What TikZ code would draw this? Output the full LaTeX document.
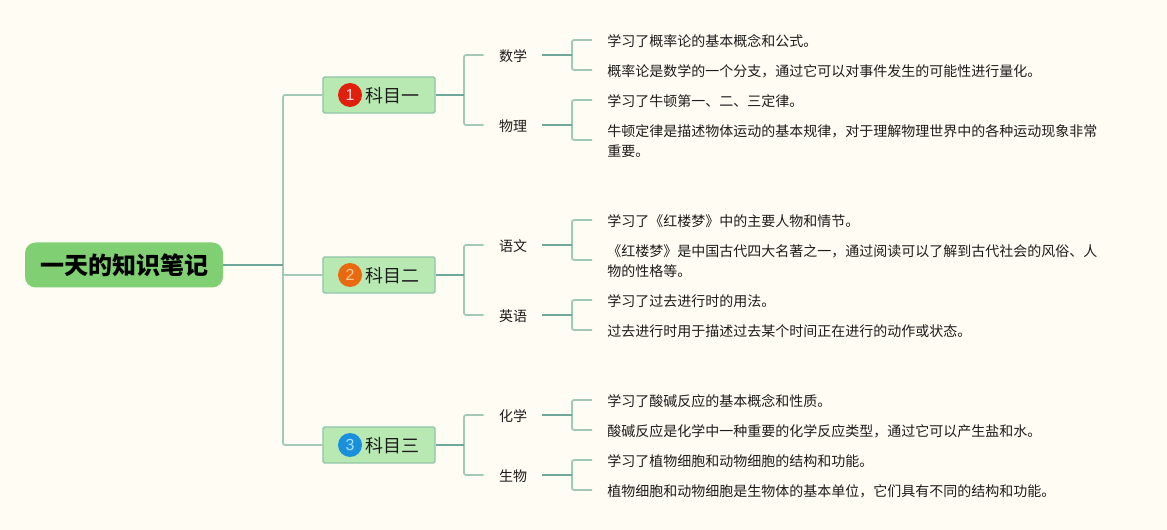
\documentclass[tikz,border=0pt]{standalone}
\usepackage{fontspec}
\setmainfont{Noto Sans CJK SC}
\newfontfamily\numfont{Liberation Sans}
\definecolor{papel}{HTML}{FFFCF3}
\definecolor{raiz}{HTML}{80CF72}
\definecolor{caja}{HTML}{B9E9B3}
\definecolor{borde}{HTML}{8FC4A8}
\definecolor{lineaf}{HTML}{6FA89A}
\definecolor{linead}{HTML}{A3C9B6}
\definecolor{texto}{HTML}{1C1C1C}
\tikzset{
    rootbox/.style={fill=raiz, rounded corners=8pt, minimum width=148.5pt, minimum height=33.75pt,
        inner sep=0pt, text=black, font=\fontsize{18}{22}\selectfont\bfseries},
    subject/.style={fill=caja, draw=borde, line width=1pt, rounded corners=1.2pt, minimum width=84pt,
        minimum height=27pt, inner sep=0pt, text=texto, font=\fontsize{13.5}{16}\selectfont,
        execute at begin node={\rule[-1.75pt]{0pt}{15.25pt}}},
    badge/.style={circle, minimum size=18pt, inner sep=0pt, font=\numfont\fontsize{12}{14}\selectfont},
    branch/.style={minimum width=43.5pt, minimum height=15pt, inner sep=0pt, text=texto,
        font=\fontsize{10.5}{15}\selectfont,
        execute at begin node={\rule[-1.5pt]{0pt}{12.5pt}}},
    leaf/.style={anchor=west, align=left, inner xsep=11.25pt, inner ysep=0pt, text=texto,
        font=\fontsize{10.5}{15}\selectfont,
        execute at begin node={\rule{0pt}{11pt}},
        execute at end node={\rule[-1.5pt]{0pt}{1.5pt}}},
    linkmain/.style={draw=lineaf, line width=1.3pt},
    linksub/.style={draw=linead, line width=1.3pt, rounded corners=1.5pt}
}
\begin{document}
\begin{tikzpicture}[x=0.75pt, y=-0.75pt]
    % Fondo
    \fill[papel] (0,0) rectangle (1167,530);

    % Raiz
    \node[rootbox] (root) at (124,265) {一天的知识笔记};

    % Materias
    \node[subject] (subj1) at (379,95) {\hspace{19.5pt}科目一};
    \node[subject] (subj2) at (379,275) {\hspace{19.5pt}科目二};
    \node[subject] (subj3) at (379,445) {\hspace{19.5pt}科目三};
    \node[badge, fill={rgb,255:red,224;green,32;blue,12}, text=red!15!white] (num1) at (350,95) {1};
    \node[badge, fill={rgb,255:red,232;green,105;blue,15}, text=orange!40!white] (num2) at (350,275) {2};
    \node[badge, fill={rgb,255:red,26;green,144;blue,220}, text=cyan!35!white] (num3) at (350,445) {3};

    % Ramas
    \node[branch] (math) at (513,55) {数学};
    \node[branch] (phys) at (513,125) {物理};
    \node[branch] (chin) at (513,245) {语文};
    \node[branch] (engl) at (513,315) {英语};
    \node[branch] (chem) at (513,415) {化学};
    \node[branch] (biol) at (513,475) {生物};

    % Notas
    \node[leaf] (math1) at (592,40) {学习了概率论的基本概念和公式。};
    \node[leaf] (math2) at (592,70) {概率论是数学的一个分支，通过它可以对事件发生的可能性进行量化。};
    \node[leaf] (phys1) at (592,100) {学习了牛顿第一、二、三定律。};
    \node[leaf] (phys2) at (592,142) {牛顿定律是描述物体运动的基本规律，对于理解物理世界中的各种运动现象非常\\重要。};
    \node[leaf] (chin1) at (592,220) {学习了《红楼梦》中的主要人物和情节。};
    \node[leaf] (chin2) at (592,262) {《红楼梦》是中国古代四大名著之一，通过阅读可以了解到古代社会的风俗、人\\物的性格等。};
    \node[leaf] (engl1) at (592,300) {学习了过去进行时的用法。};
    \node[leaf] (engl2) at (592,330) {过去进行时用于描述过去某个时间正在进行的动作或状态。};
    \node[leaf] (chem1) at (592,400) {学习了酸碱反应的基本概念和性质。};
    \node[leaf] (chem2) at (592,430) {酸碱反应是化学中一种重要的化学反应类型，通过它可以产生盐和水。};
    \node[leaf] (biol1) at (592,460) {学习了植物细胞和动物细胞的结构和功能。};
    \node[leaf] (biol2) at (592,490) {植物细胞和动物细胞是生物体的基本单位，它们具有不同的结构和功能。};

    % Puntos de bifurcacion
    \coordinate (forkroot) at (283,265);
    \coordinate (fork1) at (464,95);
    \coordinate (fork2) at (464,275);
    \coordinate (fork3) at (464,445);
    \coordinate (forkmath) at (572,55);
    \coordinate (forkphys) at (572,125);
    \coordinate (forkchin) at (572,245);
    \coordinate (forkengl) at (572,315);
    \coordinate (forkchem) at (572,415);
    \coordinate (forkbiol) at (572,475);

    % Conectores claros
    \draw[linksub] (forkroot) |- (subj1.west);
    \draw[linksub] (forkroot) |- (subj2.west);
    \draw[linksub] (forkroot) |- (subj3.west);
    \draw[linksub] (fork1) |- (math.west);
    \draw[linksub] (fork1) |- (phys.west);
    \draw[linksub] (fork2) |- (chin.west);
    \draw[linksub] (fork2) |- (engl.west);
    \draw[linksub] (fork3) |- (chem.west);
    \draw[linksub] (fork3) |- (biol.west);
    \draw[linksub] (forkmath) |- (math1.west);
    \draw[linksub] (forkmath) |- (math2.west);
    \draw[linksub] (forkphys) |- (phys1.west);
    \draw[linksub] (forkphys) |- ([yshift=1.5pt]phys2.west);
    \draw[linksub] (forkchin) |- (chin1.west);
    \draw[linksub] (forkchin) |- ([yshift=1.5pt]chin2.west);
    \draw[linksub] (forkengl) |- (engl1.west);
    \draw[linksub] (forkengl) |- (engl2.west);
    \draw[linksub] (forkchem) |- (chem1.west);
    \draw[linksub] (forkchem) |- (chem2.west);
    \draw[linksub] (forkbiol) |- (biol1.west);
    \draw[linksub] (forkbiol) |- (biol2.west);

    % Conectores oscuros
    \draw[linkmain] (root.east) -- (forkroot);
    \draw[linkmain] (subj1.east) -- (fork1);
    \draw[linkmain] (subj2.east) -- (fork2);
    \draw[linkmain] (subj3.east) -- (fork3);
    \draw[linkmain] (math.east) -- (forkmath);
    \draw[linkmain] (phys.east) -- (forkphys);
    \draw[linkmain] (chin.east) -- (forkchin);
    \draw[linkmain] (engl.east) -- (forkengl);
    \draw[linkmain] (chem.east) -- (forkchem);
    \draw[linkmain] (biol.east) -- (forkbiol);
\end{tikzpicture}
\end{document}
